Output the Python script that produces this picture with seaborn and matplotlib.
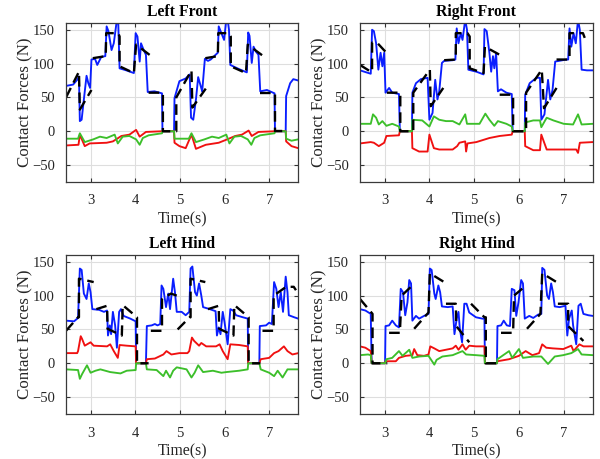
import numpy as np
import pandas as pd
import matplotlib
matplotlib.use("Agg")
import matplotlib.pyplot as plt
import seaborn as sns

# ---------------- data (time [s], force [N]) ----------------
titles = ["Left Front", "Right Front", "Left Hind", "Right Hind"]
xticks = [3, 4, 5, 6, 7]
yticks = [-50, 0, 50, 100, 150]

lf_fz = [(2.45,67),(2.61,69),(2.70,76),(2.74,81),(2.76,15),(2.80,17),(2.85,47),(2.91,82),(2.95,71),(2.99,64),
         (3.02,106),(3.10,107),(3.15,98),(3.24,110),(3.33,111),(3.36,155),(3.40,148),(3.47,120),(3.52,130),(3.59,165),
         (3.62,160),(3.65,93),(3.80,90),(3.97,86),(4.01,145),(4.05,140),(4.10,103),(4.13,130),(4.19,120),(4.24,113),
         (4.28,58),(4.43,59),(4.60,56),(4.61,0),(4.87,0),(4.88,49),(4.99,74),(5.13,78),(5.22,84),(5.25,20),(5.30,17),
         (5.36,47),(5.41,80),(5.47,66),(5.50,59),(5.56,107),(5.63,104),(5.69,106),(5.80,113),(5.85,116),(5.87,155),
         (5.93,145),(5.99,135),(6.04,165),(6.07,165),(6.10,150),(6.13,98),(6.32,92),(6.50,87),(6.53,146),(6.56,141),
         (6.61,101),(6.65,125),(6.70,118),(6.76,113),(6.80,59),(6.95,61),(7.12,56),(7.13,0),(7.37,0),(7.38,52),
         (7.47,71),(7.54,77),(7.65,75)]
lf_ref = [[(2.45,50),(2.74,88),(2.76,32),(3.02,61)],
          [(3.05,108),(3.34,111),(3.35,145),(3.62,145),(3.65,140),(3.65,96),(3.97,86),(4.02,128),(4.36,111)],
          [(4.30,57),(4.62,57),(4.62,0),(4.92,0),(4.92,50),(5.26,90),(5.28,35),(5.58,63)],
          [(5.57,108),(5.85,111),(5.86,145),(6.10,145),(6.14,140),(6.14,96),(6.48,86),(6.52,128),(6.87,111)],
          [(6.80,57),(7.14,57),(7.14,0),(7.40,0)]]
lf_fx = [(2.45,-21),(2.73,-20),(2.76,-5),(2.87,-22),(2.98,-18),(3.36,-17),(3.50,-15),(3.69,-7),(3.87,-5),(4.02,2),
         (4.10,-8),(4.24,-1),(4.60,0),(4.87,0),(4.88,-17),(4.99,-22),(5.13,-25),(5.26,-5),(5.36,-26),(5.58,-20),
         (5.87,-17),(6.06,-12),(6.24,-7),(6.39,-5),(6.54,1),(6.61,-7),(6.76,-1),(7.13,0),(7.37,0),(7.38,-15),
         (7.50,-22),(7.65,-25)]
lf_fy = [(2.45,-11),(2.72,-11),(2.76,-3),(2.87,-16),(3.06,-12),(3.21,-8),(3.36,-10),(3.54,-5),(3.61,-18),(3.72,-8),
         (3.87,-7),(4.02,-12),(4.10,-20),(4.17,-10),(4.30,-6),(4.60,-3),(4.61,0),(4.87,0),(4.88,-11),(5.20,-11),
         (5.26,-3),(5.36,-16),(5.55,-12),(5.72,-8),(5.87,-10),(6.04,-5),(6.11,-18),(6.22,-8),(6.37,-7),(6.52,-12),
         (6.60,-20),(6.67,-10),(6.80,-6),(7.12,-3),(7.13,0),(7.37,0),(7.38,-11),(7.50,-14),(7.65,-12)]

rf_fz = [(2.45,90),(2.69,85),(2.72,150),(2.76,148),(2.81,130),(2.86,91),(2.91,116),(2.95,96),(2.99,116),(3.02,57),
         (3.10,64),(3.17,57),(3.32,55),(3.34,0),(3.61,0),(3.62,57),(3.70,71),(3.81,77),(3.96,79),(4.00,17),(4.07,27),
         (4.13,76),(4.18,47),(4.22,59),(4.28,101),(4.33,104),(4.52,105),(4.58,106),(4.61,152),(4.65,130),(4.70,145),
         (4.74,135),(4.80,165),(4.84,150),(4.87,91),(5.05,88),(5.21,84),(5.23,151),(5.28,148),(5.34,116),(5.38,88),
         (5.42,111),(5.45,93),(5.49,116),(5.53,59),(5.60,62),(5.72,57),(5.84,55),(5.86,0),(6.13,0),(6.14,54),
         (6.24,71),(6.39,79),(6.47,79),(6.50,17),(6.57,25),(6.65,76),(6.70,47),(6.75,61),(6.81,103),(7.06,106),
         (7.10,106),(7.13,152),(7.17,125),(7.22,145),(7.27,130),(7.32,165),(7.36,150),(7.40,91),(7.52,90),(7.65,90)]
rf_ref = [[(2.45,98),(2.69,88),(2.72,88),(2.72,131),(2.83,131),(3.04,116)],
          [(3.05,57),(3.35,57),(3.35,0),(3.64,0),(3.64,57),(4.01,91),(4.03,37),(4.31,64)],
          [(4.33,105),(4.59,106),(4.59,145),(4.85,145),(4.90,140),(4.90,93),(5.21,86),(5.24,125),(5.57,113)],
          [(5.57,54),(5.87,54),(5.87,0),(6.16,0),(6.16,57),(6.51,91),(6.56,34),(6.84,64)],
          [(6.84,106),(7.13,106),(7.13,145),(7.43,145),(7.47,138)]]
rf_fx = [(2.45,-18),(2.69,-16),(2.76,-17),(2.87,-22),(2.99,-17),(3.04,-7),(3.32,-6),(3.34,0),(3.61,0),(3.62,-25),
         (3.77,-30),(3.96,-30),(4.00,-5),(4.10,-25),(4.22,-27),(4.52,-27),(4.62,-22),(4.67,-17),(4.80,-15),(4.82,-30),
         (4.85,-18),(5.05,-16),(5.34,-10),(5.57,-7),(5.84,-5),(5.86,0),(6.13,0),(6.14,-22),(6.32,-28),(6.47,-28),
         (6.50,-5),(6.62,-27),(7.00,-27),(7.28,-27),(7.32,-32),(7.36,-17),(7.65,-16)]
rf_fy = [(2.45,11),(2.69,11),(2.74,25),(2.81,20),(2.87,10),(2.95,15),(3.04,8),(3.17,11),(3.32,7),(3.34,0),(3.61,0),
         (3.62,17),(3.84,16),(4.00,7),(4.10,22),(4.22,17),(4.37,15),(4.52,15),(4.67,10),(4.80,25),(4.84,11),(5.12,11),
         (5.25,26),(5.34,17),(5.45,8),(5.53,15),(5.72,11),(5.84,7),(5.86,0),(6.13,0),(6.14,13),(6.32,16),(6.47,16),
         (6.50,6),(6.62,20),(6.77,16),(7.00,11),(7.21,10),(7.32,25),(7.40,10),(7.65,11)]

lh_fz = [(2.45,63),(2.63,62),(2.72,67),(2.76,140),(2.80,138),(2.85,103),(2.91,95),(2.96,118),(3.00,105),(3.04,80),
         (3.19,79),(3.30,76),(3.37,78),(3.39,41),(3.43,56),(3.46,43),(3.50,76),(3.55,56),(3.59,23),(3.64,76),(3.68,80),
         (3.74,70),(3.89,66),(4.01,62),(4.02,0),(4.24,0),(4.26,55),(4.37,56),(4.44,58),(4.50,56),(4.56,58),(4.59,115),
         (4.63,110),(4.69,83),(4.74,103),(4.78,80),(4.85,125),(4.89,105),(4.93,76),(5.04,76),(5.13,71),(5.21,76),
         (5.24,140),(5.28,143),(5.34,105),(5.38,100),(5.43,118),(5.48,100),(5.52,83),(5.67,80),(5.80,77),(5.83,41),
         (5.87,53),(5.91,43),(5.96,76),(6.00,61),(6.07,28),(6.13,80),(6.19,78),(6.26,71),(6.41,68),(6.52,66),(6.53,0),
         (6.78,0),(6.79,55),(6.93,56),(7.00,60),(7.06,58),(7.11,120),(7.16,110),(7.21,83),(7.26,105),(7.31,76),
         (7.37,128),(7.41,105),(7.44,71),(7.56,68),(7.65,66)]
lh_ref = [[(2.45,48),(2.72,68),(2.74,68),(2.74,125),(3.07,120)],
          [(3.13,80),(3.37,85),(3.38,51),(3.70,41),(3.72,86),(4.04,68),(4.04,0),(4.30,0)],
          [(4.35,48),(4.60,48),(4.60,95),(4.80,103),(4.93,100)],
          [(4.95,50),(5.22,68),(5.24,68),(5.24,125),(5.57,120)],
          [(5.63,80),(5.87,85),(5.88,51),(6.20,41),(6.22,86),(6.54,68),(6.54,0),(6.80,0)],
          [(6.85,48),(7.10,48),(7.10,100),(7.38,113),(7.55,113),(7.60,108)]]
lh_fx = [(2.45,15),(2.70,15),(2.72,18),(2.78,40),(2.81,36),(2.87,26),(3.00,31),(3.07,26),(3.37,25),(3.44,28),
         (3.52,18),(3.61,8),(3.65,27),(3.81,26),(4.01,25),(4.02,0),(4.24,0),(4.26,6),(4.44,7),(4.63,13),(4.70,18),
         (4.81,13),(4.99,15),(5.17,15),(5.21,18),(5.27,38),(5.32,33),(5.43,26),(5.48,30),(5.59,25),(5.81,25),
         (5.89,28),(5.96,18),(6.07,6),(6.13,28),(6.33,27),(6.52,25),(6.53,0),(6.78,0),(6.81,6),(7.00,8),(7.11,15),
         (7.21,18),(7.33,25),(7.41,18),(7.52,13),(7.65,15)]
lh_fy = [(2.45,-9),(2.72,-10),(2.76,-23),(2.81,-16),(2.92,-3),(3.00,-14),(3.11,-11),(3.22,-9),(3.44,-13),(3.67,-15),
         (3.81,-11),(4.01,-10),(4.02,0),(4.24,0),(4.26,-9),(4.48,-10),(4.63,-19),(4.69,-11),(4.78,-21),(4.85,-11),
         (4.93,-6),(5.15,-9),(5.26,-21),(5.33,-14),(5.41,-3),(5.52,-13),(5.74,-11),(5.93,-14),(6.04,-13),(6.33,-11),
         (6.52,-9),(6.53,0),(6.78,0),(6.81,-9),(7.00,-14),(7.11,-19),(7.19,-11),(7.30,-21),(7.41,-9),(7.65,-9)]

rh_fz = [(2.45,80),(2.57,78),(2.69,73),(2.71,0),(3.01,0),(3.02,55),(3.10,56),(3.17,63),(3.25,56),(3.32,53),
         (3.36,110),(3.41,105),(3.46,71),(3.51,90),(3.55,123),(3.59,118),(3.62,63),(3.70,70),(3.77,66),(3.88,70),
         (3.98,73),(4.01,140),(4.05,138),(4.11,103),(4.14,95),(4.20,115),(4.24,105),(4.28,84),(4.41,83),(4.52,84),
         (4.56,43),(4.61,66),(4.65,76),(4.68,51),(4.73,31),(4.78,88),(4.83,88),(4.89,75),(5.04,68),(5.18,66),
         (5.23,66),(5.24,0),(5.51,0),(5.52,55),(5.60,56),(5.66,63),(5.73,56),(5.80,55),(5.84,110),(5.90,108),
         (5.94,70),(5.99,90),(6.05,123),(6.09,118),(6.13,66),(6.23,70),(6.32,67),(6.43,72),(6.50,73),(6.52,141),
         (6.57,138),(6.63,100),(6.67,95),(6.72,118),(6.76,105),(6.80,84),(6.91,83),(7.04,85),(7.08,41),(7.12,66),
         (7.18,78),(7.21,56),(7.28,28),(7.33,85),(7.38,88),(7.44,73),(7.55,71),(7.65,70)]
rh_ref = [[(2.45,95),(2.73,73),(2.73,0),(3.06,0)],
          [(3.10,45),(3.34,45),(3.38,100),(3.62,115),(3.65,115)],
          [(3.66,51),(3.98,75),(4.01,133),(4.33,120)],
          [(4.37,88),(4.59,88),(4.60,55),(4.89,31)],
          [(4.93,88),(5.23,68),(5.26,68),(5.26,0),(5.54,0)],
          [(5.60,45),(5.87,45),(5.89,100),(6.16,115)],
          [(6.18,51),(6.48,73),(6.52,133),(6.84,120)],
          [(6.87,88),(7.10,88),(7.10,55),(7.44,33)]]
rh_fx = [(2.45,25),(2.57,23),(2.69,18),(2.71,0),(3.01,0),(3.02,3),(3.25,3),(3.32,8),(3.47,11),(3.62,12),(3.66,21),
         (3.73,12),(3.88,11),(3.98,13),(4.02,25),(4.11,22),(4.22,18),(4.37,20),(4.52,22),(4.59,26),(4.65,20),
         (4.74,28),(4.81,20),(4.89,26),(5.04,25),(5.23,25),(5.24,0),(5.51,0),(5.52,3),(5.78,6),(6.00,11),(6.15,18),
         (6.30,12),(6.45,15),(6.52,28),(6.61,23),(6.76,22),(6.99,21),(7.17,26),(7.22,18),(7.35,28),(7.44,25),(7.65,25)]
rh_fy = [(2.45,12),(2.63,13),(2.69,12),(2.71,0),(3.01,0),(3.04,6),(3.17,8),(3.32,18),(3.40,11),(3.55,20),(3.62,8),
         (3.77,10),(3.98,11),(4.11,-2),(4.16,5),(4.29,10),(4.52,12),(4.74,18),(4.82,13),(5.04,12),(5.23,11),(5.24,0),
         (5.51,0),(5.52,6),(5.78,18),(5.85,8),(6.00,21),(6.09,8),(6.32,10),(6.50,10),(6.65,-1),(6.80,10),(6.99,12),
         (7.17,15),(7.32,21),(7.40,13),(7.65,12)]

legs = [(lf_fz, lf_ref, lf_fx, lf_fy), (rf_fz, rf_ref, rf_fx, rf_fy),
        (lh_fz, lh_ref, lh_fx, lh_fy), (rh_fz, rh_ref, rh_fx, rh_fy)]

# ---------------- style ----------------
sns.set_theme(style="whitegrid")
plt.rcParams["font.family"] = ["Liberation Serif", "DejaVu Serif"]

BLUE = "#0a1eff"
RED = "#f01010"
GREEN = "#3cbf2a"
TXT = "#262626"

def curve_df(pairs):
    return pd.DataFrame(pairs, columns=["t", "f"])

def ref_df(segs):
    rows = []
    for i, seg in enumerate(segs):
        for t, f in seg:
            rows.append((i, t, f))
    return pd.DataFrame(rows, columns=["seg", "t", "f"])

fig = plt.figure(figsize=(6.0, 4.59), dpi=100)
positions = [[0.110, 0.6035, 0.387, 0.3464], [0.600, 0.6035, 0.388, 0.3464],
             [0.110, 0.0980, 0.387, 0.3464], [0.600, 0.0980, 0.388, 0.3464]]

for pos, title, (fz, ref, fx, fy) in zip(positions, titles, legs):
    ax = fig.add_axes(pos)
    sns.lineplot(data=curve_df(fz), x="t", y="f", ax=ax, color=BLUE, lw=1.35,
                 sort=False, estimator=None)
    sns.lineplot(data=curve_df(fx), x="t", y="f", ax=ax, color=RED, lw=1.35,
                 sort=False, estimator=None)
    sns.lineplot(data=curve_df(fy), x="t", y="f", ax=ax, color=GREEN, lw=1.35,
                 sort=False, estimator=None)
    sns.lineplot(data=ref_df(ref), x="t", y="f", units="seg", ax=ax, color="black",
                 lw=1.7, sort=False, estimator=None, linestyle=(0, (4.5, 2.5)))
    ax.set_xlim(2.45, 7.65)
    ax.set_ylim(-75, 160)
    ax.set_xticks(xticks)
    ax.set_yticks(yticks)
    ax.set_xlabel("Time(s)", fontsize=11.3, labelpad=3, color=TXT)
    ax.set_ylabel("Contact Forces (N)", fontsize=12.2, labelpad=-1, color=TXT)
    ax.set_title(title, fontsize=11.3, fontweight="bold", pad=5, color="black")
    ax.tick_params(axis="both", labelsize=10.5, direction="in", length=3, width=0.8,
                   pad=8, colors="#333333", labelcolor=TXT,
                   top=True, right=True, bottom=True, left=True)
    ax.tick_params(axis="x", pad=9)
    ax.grid(True, color="#dedede", lw=0.8)
    for s in ax.spines.values():
        s.set_visible(True)
        s.set_color("#3a3a3a")
        s.set_linewidth(0.9)
    ax.set_facecolor("white")

fig.savefig("out.png", dpi=100)
